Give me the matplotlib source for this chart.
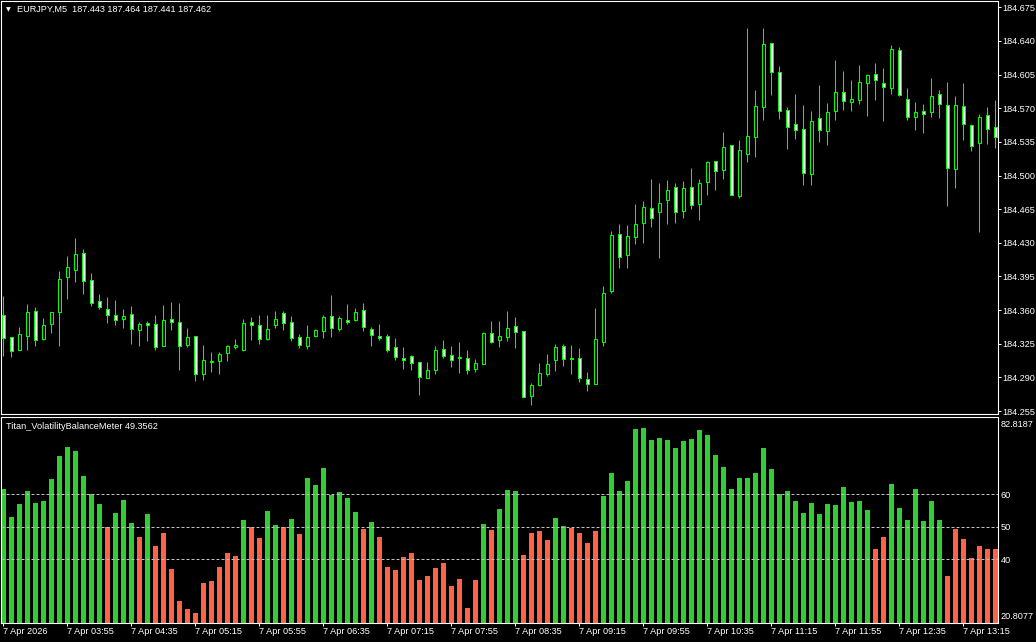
import numpy as np
import matplotlib
matplotlib.use("Agg")
import matplotlib.pyplot as plt

plt.rcParams['font.family'] = ['Liberation Sans', 'DejaVu Sans']

LIME = "#00FF00"
GREEN = "#32CD32"
RED = "#FF6347"
LEVEL = "#C0C0C0"
FS = 6.6

# ── EURJPY M5 candles (open, high, low, close) ───────────────────────────────
opens = [184.355, 184.332, 184.318, 184.333, 184.359, 184.330, 184.346, 184.358, 184.394, 184.402,
         184.419, 184.391, 184.369, 184.361, 184.355, 184.351, 184.356, 184.339, 184.347, 184.346,
         184.323, 184.351, 184.348, 184.324, 184.333, 184.293, 184.3055, 184.307, 184.315, 184.322,
         184.319, 184.348, 184.345, 184.330, 184.345, 184.357, 184.348, 184.332, 184.323, 184.333,
         184.338, 184.354, 184.340, 184.350, 184.3495, 184.360, 184.340, 184.333, 184.333, 184.322,
         184.310, 184.312, 184.306, 184.289, 184.298, 184.320, 184.313, 184.311, 184.310, 184.299,
         184.304, 184.336, 184.3285, 184.332, 184.343, 184.338, 184.271, 184.282, 184.293, 184.308,
         184.323, 184.3098, 184.310, 184.288, 184.283, 184.327, 184.380, 184.439, 184.417, 184.436,
         184.451, 184.466, 184.462, 184.475, 184.488, 184.463, 184.488, 184.470, 184.493, 184.515,
         184.506, 184.532, 184.479, 184.522, 184.540, 184.571, 184.6375, 184.608, 184.568, 184.554,
         184.548, 184.502, 184.5595, 184.546, 184.567, 184.5865, 184.576, 184.579, 184.596, 184.606,
         184.596, 184.591, 184.631, 184.580, 184.5605, 184.567, 184.566, 184.5845, 184.573, 184.5065,
         184.572, 184.553, 184.5335, 184.5625, 184.550]
highs = [184.375, 184.332, 184.342, 184.366, 184.363, 184.352, 184.358, 184.401, 184.416, 184.435,
         184.424, 184.399, 184.377, 184.374, 184.371, 184.361, 184.364, 184.348, 184.349, 184.355,
         184.365, 184.368, 184.367, 184.341, 184.333, 184.324, 184.316, 184.316, 184.324, 184.330,
         184.351, 184.353, 184.355, 184.355, 184.359, 184.359, 184.354, 184.335, 184.345, 184.340,
         184.355, 184.376, 184.354, 184.366, 184.362, 184.367, 184.342, 184.346, 184.335, 184.331,
         184.322, 184.313, 184.306, 184.306, 184.323, 184.329, 184.323, 184.327, 184.319, 184.309,
         184.337, 184.349, 184.349, 184.359, 184.353, 184.338, 184.284, 184.305, 184.314, 184.325,
         184.325, 184.324, 184.321, 184.296, 184.3625, 184.385, 184.442, 184.4495, 184.4485, 184.470,
         184.473, 184.496, 184.492, 184.495, 184.492, 184.494, 184.508, 184.4965, 184.515, 184.515,
         184.545, 184.532, 184.537, 184.6535, 184.589, 184.6535, 184.6375, 184.614, 184.571, 184.585,
         184.573, 184.567, 184.594, 184.575, 184.620, 184.609, 184.599, 184.615, 184.606, 184.617,
         184.612, 184.636, 184.634, 184.591, 184.5765, 184.574, 184.6015, 184.5885, 184.597, 184.583,
         184.596, 184.554, 184.564, 184.571, 184.5785]
lows = [184.312, 184.311, 184.318, 184.318, 184.323, 184.329, 184.336, 184.323, 184.372, 184.389,
        184.377, 184.364, 184.361, 184.347, 184.345, 184.341, 184.325, 184.323, 184.328, 184.319,
        184.323, 184.339, 184.298, 184.322, 184.286, 184.287, 184.296, 184.294, 184.307, 184.320,
        184.317, 184.329, 184.325, 184.329, 184.341, 184.339, 184.328, 184.321, 184.320, 184.332,
        184.331, 184.332, 184.338, 184.346, 184.349, 184.338, 184.323, 184.329, 184.316, 184.308,
        184.299, 184.298, 184.272, 184.289, 184.293, 184.310, 184.301, 184.295, 184.294, 184.296,
        184.304, 184.326, 184.322, 184.328, 184.321, 184.270, 184.261, 184.281, 184.291, 184.297,
        184.302, 184.294, 184.2855, 184.276, 184.283, 184.323, 184.378, 184.404, 184.404, 184.429,
        184.430, 184.446, 184.4145, 184.450, 184.451, 184.456, 184.4655, 184.454, 184.480, 184.485,
        184.496, 184.480, 184.477, 184.514, 184.519, 184.558, 184.584, 184.559, 184.528, 184.538,
        184.4905, 184.4905, 184.535, 184.532, 184.558, 184.5685, 184.5675, 184.574, 184.562, 184.579,
        184.557, 184.585, 184.583, 184.558, 184.547, 184.544, 184.561, 184.560, 184.4685, 184.487,
        184.537, 184.526, 184.4415, 184.533, 184.529]
closes = [184.331, 184.317, 184.335, 184.358, 184.329, 184.345, 184.358, 184.392, 184.405, 184.418,
          184.390, 184.367, 184.363, 184.355, 184.350, 184.354, 184.340, 184.346, 184.344, 184.322,
          184.350, 184.348, 184.323, 184.332, 184.294, 184.308, 184.307, 184.314, 184.323, 184.3235,
          184.347, 184.344, 184.330, 184.340, 184.351, 184.347, 184.331, 184.324, 184.332, 184.339,
          184.353, 184.341, 184.352, 184.348, 184.3585, 184.342, 184.334, 184.331, 184.319, 184.311,
          184.308, 184.305, 184.290, 184.298, 184.319, 184.312, 184.308, 184.3105, 184.298, 184.305,
          184.336, 184.327, 184.3327, 184.341, 184.337, 184.270, 184.282, 184.2945, 184.304, 184.322,
          184.309, 184.3087, 184.289, 184.283, 184.3295, 184.378, 184.438, 184.415, 184.437, 184.450,
          184.467, 184.456, 184.471, 184.4845, 184.462, 184.487, 184.469, 184.492, 184.514, 184.505,
          184.530, 184.480, 184.527, 184.541, 184.572, 184.6365, 184.608, 184.567, 184.551, 184.547,
          184.503, 184.557, 184.547, 184.566, 184.5865, 184.578, 184.580, 184.597, 184.605, 184.599,
          184.592, 184.632, 184.584, 184.561, 184.5657, 184.564, 184.583, 184.574, 184.5075, 184.573,
          184.554, 184.531, 184.5605, 184.548, 184.540]

# ── Titan_VolatilityBalanceMeter histogram ───────────────────────────────────
vbm = [61.6, 53.0, 57.0, 61.0, 57.3, 57.9, 64.7, 71.8, 74.6, 73.3,
       65.6, 60.1, 57.0, 49.9, 54.2, 58.2, 51.2, 46.9, 53.9, 44.1,
       48.1, 37.0, 27.2, 24.7, 23.5, 32.7, 33.3, 37.6, 41.9, 41.0,
       52.1, 49.9, 46.6, 54.9, 50.6, 49.9, 52.4, 47.8, 65.0, 62.9,
       68.1, 59.8, 60.7, 58.9, 54.6, 49.3, 51.5, 46.9, 37.6, 36.7,
       40.7, 41.9, 33.6, 34.9, 37.3, 38.9, 31.8, 33.9, 25.1, 33.6,
       50.9, 49.0, 55.5, 61.3, 61.0, 41.3, 48.1, 48.7, 45.9, 52.7,
       50.2, 49.6, 48.1, 45.0, 48.7, 59.5, 66.6, 61.0, 64.1, 80.1,
       80.4, 76.7, 77.3, 76.7, 74.2, 76.4, 77.0, 79.8, 78.2, 72.1,
       68.4, 61.6, 65.0, 65.0, 66.6, 74.2, 67.8, 60.1, 61.0, 57.9,
       54.2, 57.3, 53.9, 57.0, 56.7, 62.2, 57.6, 57.9, 55.2, 43.2,
       46.9, 63.2, 55.8, 52.1, 61.6, 51.8, 57.9, 52.1, 34.9, 49.3,
       46.2, 40.5, 44.1, 43.2, 43.2]
vbm_levels = [40, 50, 60]
vbm_max, vbm_min = 82.8187, 20.8077

price_ticks = [184.255, 184.290, 184.325, 184.360, 184.395, 184.430, 184.465,
               184.500, 184.535, 184.570, 184.605, 184.640, 184.675]
time_labels = ["7 Apr 2026", "7 Apr 03:55", "7 Apr 04:35", "7 Apr 05:15", "7 Apr 05:55",
               "7 Apr 06:35", "7 Apr 07:15", "7 Apr 07:55", "7 Apr 08:35", "7 Apr 09:15",
               "7 Apr 09:55", "7 Apr 10:35", "7 Apr 11:15", "7 Apr 11:55", "7 Apr 12:35",
               "7 Apr 13:15"]

o, h, l, c = map(np.array, (opens, highs, lows, closes))
x = np.arange(len(o))
vals = np.array(vbm)

# ── Figure (pixel-placed panels like the MT4 window) ─────────────────────────
W, H = 1036, 642
fig = plt.figure(figsize=(W / 100, H / 100), dpi=100, facecolor="black")


def px_rect(x0, y0, x1, y1):
    return [x0 / W, 1 - y1 / H, (x1 - x0) / W, (y1 - y0) / H]


ax = fig.add_axes(px_rect(1, 1, 997.5, 414))
ax2 = fig.add_axes(px_rect(1, 417.3, 997.5, 622.7))

for a in (ax, ax2):
    a.set_facecolor("black")
    for s in a.spines.values():
        s.set_color("white")
        s.set_linewidth(0.8)
    a.set_xlim(-0.31, 124.25)

# candles
ax.vlines(x, l, h, color=LIME, lw=0.75, zorder=2)
face = np.where(c < o, "white", "black")
ax.bar(x, np.abs(c - o), bottom=np.minimum(o, c), width=0.45, color=face,
       edgecolor=LIME, linewidth=0.75, zorder=3)

ax.set_ylim(184.2519, 184.6816)
ax.yaxis.tick_right()
ax.set_yticks(price_ticks)
ax.set_yticklabels([f"{p:.3f}" for p in price_ticks])
ax.tick_params(axis="y", colors="white", length=2.2, width=0.7, pad=1.5, labelsize=FS)
ax.set_xticks([])

# indicator
ax2.bar(x, vals, width=0.66, color=np.where(vals >= 50, GREEN, RED), zorder=2)
for lvl in vbm_levels:
    ax2.axhline(lvl, color=LEVEL, lw=0.72, ls=(0, (3, 2)), zorder=3)
ax2.set_ylim(20.5, 83.7)
ax2.yaxis.tick_right()
ax2.set_yticks(vbm_levels)
ax2.set_yticklabels([str(v) for v in vbm_levels])
ax2.tick_params(axis="y", colors="white", length=0, pad=2.4, labelsize=FS)
ax2.annotate(f"{vbm_max}", xy=(1, vbm_max), xycoords=("axes fraction", "data"),
             xytext=(2.3, 0), textcoords="offset points", va="top", ha="left",
             color="white", fontsize=FS, annotation_clip=False)
ax2.annotate(f"{vbm_min}", xy=(1, vbm_min), xycoords=("axes fraction", "data"),
             xytext=(2.3, 0.5), textcoords="offset points", va="bottom", ha="left",
             color="white", fontsize=FS, annotation_clip=False)

ax2.set_xticks(x[::8])
ax2.set_xticklabels(time_labels)
ax2.tick_params(axis="x", colors="white", length=2.2, width=0.7, pad=1.2, labelsize=FS)
for t in ax2.get_xticklabels():
    t.set_ha("left")

# window captions
fig.text(8.3 / W, 1 - 9.6 / H, "▼", family="DejaVu Sans", fontsize=4.5,
         color="white", ha="center", va="center")
fig.text(17 / W, 1 - 9.3 / H, "EURJPY,M5  187.443 187.464 187.441 187.462",
         color="white", fontsize=FS, ha="left", va="center")
fig.text(6.5 / W, 1 - 426.7 / H, "Titan_VolatilityBalanceMeter 49.3562",
         color="white", fontsize=FS, ha="left", va="center")

fig.savefig("out.png", dpi=100, facecolor="black")
